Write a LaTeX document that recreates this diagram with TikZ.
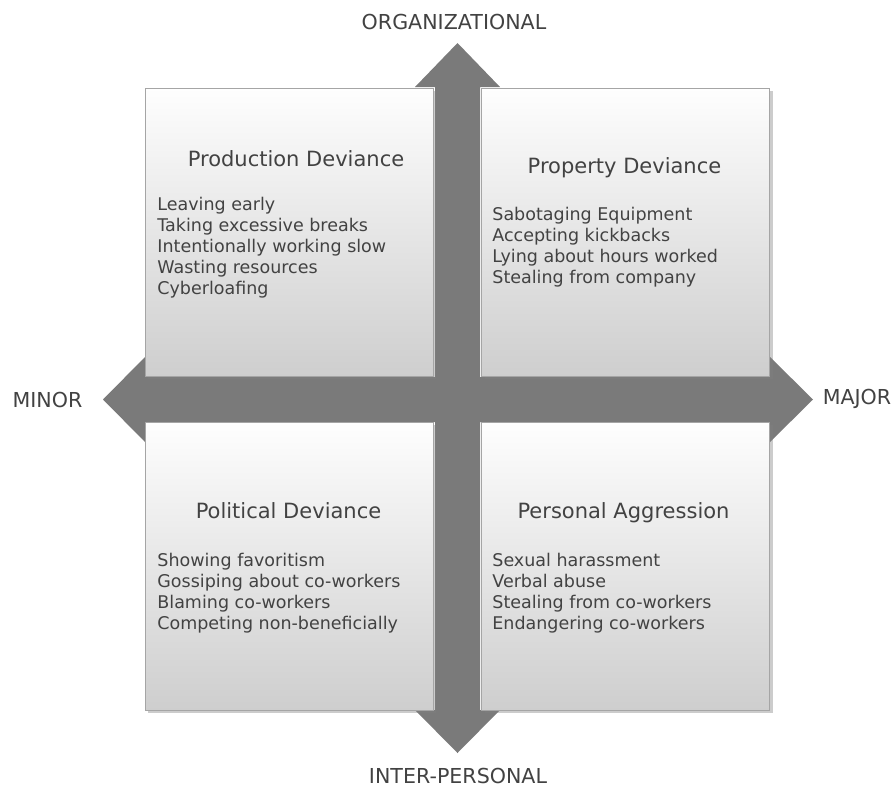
\documentclass[tikz,border=0pt]{standalone}
\usepackage{fontspec}
\setmainfont{DejaVu Sans}
\usetikzlibrary{shadows}
\definecolor{arrowgray}{RGB}{122,122,122}
\definecolor{boxtop}{RGB}{254,254,254}
\definecolor{boxbottom}{RGB}{206,206,206}
\definecolor{boxedge}{RGB}{165,165,165}
\definecolor{inkgray}{RGB}{66,66,66}

\begin{document}
\begin{tikzpicture}[
    x=0.5pt, y=-0.5pt,
    quad/.style={
        rectangle, draw=boxedge, line width=0.4pt,
        top color=boxtop, bottom color=boxbottom,
        minimum width=144pt, minimum height=144pt, inner sep=0pt,
        drop shadow={shadow xshift=1.5pt, shadow yshift=-1.5pt, opacity=0.4}
    },
    heading/.style={anchor=base, inner sep=0pt, text=inkgray,
        font=\fontsize{10.5}{12}\selectfont},
    entry/.style={anchor=base west, inner sep=0pt, text=inkgray,
        font=\fontsize{8.75}{10.5}\selectfont},
    axislabel/.style={inner sep=0pt, text=inkgray,
        font=\fontsize{10.3}{12}\selectfont}
]
\useasboundingbox (0,0) rectangle (896,793);

% the cross with four arrow heads
\fill[arrowgray] (457.5,43) -- (500,87) -- (480,87) -- (480,377) -- (770,377)
    -- (770,357) -- (813,399.5) -- (770,442) -- (770,422) -- (480,422)
    -- (480,710) -- (500,710) -- (457.5,753) -- (415,710) -- (435,710)
    -- (435,422) -- (145,422) -- (145,442) -- (103,399.5) -- (145,357)
    -- (145,377) -- (435,377) -- (435,87) -- (415,87) -- cycle;

% quadrants
\node[quad] (production) at (289,232) {};
\node[quad] (property) at (625.5,232) {};
\node[quad] (political) at (289,566) {};
\node[quad] (personal) at (625.5,566) {};

\node[heading] (production-title) at (296,166) {Production Deviance};
\foreach \item [count=\i] in {Leaving early, Taking excessive breaks,
    Intentionally working slow, Wasting resources, Cyberloafing}
    \node[entry] (production-\i) at (157,189+21*\i) {\item};

\node[heading] (property-title) at (624.5,173) {Property Deviance};
\foreach \item [count=\i] in {Sabotaging Equipment, Accepting kickbacks,
    Lying about hours worked, Stealing from company}
    \node[entry] (property-\i) at (492,199+21*\i) {\item};

\node[heading] (political-title) at (288.5,518) {Political Deviance};
\foreach \item [count=\i] in {Showing favoritism, Gossiping about co-workers,
    Blaming co-workers, Competing non-beneficially}
    \node[entry] (political-\i) at (157,545+21*\i) {\item};

\node[heading] (personal-title) at (623.5,518) {Personal Aggression};
\foreach \item [count=\i] in {Sexual harassment, Verbal abuse,
    Stealing from co-workers, Endangering co-workers}
    \node[entry] (personal-\i) at (492,545+21*\i) {\item};

% axis labels
\node[axislabel] (organizational) at (454,22) {ORGANIZATIONAL};
\node[axislabel] (interpersonal) at (458,776) {INTER-PERSONAL};
\node[axislabel] (minor) at (47.5,400) {MINOR};
\node[axislabel] (major) at (857,399) {MAJOR};

\end{tikzpicture}
\end{document}
